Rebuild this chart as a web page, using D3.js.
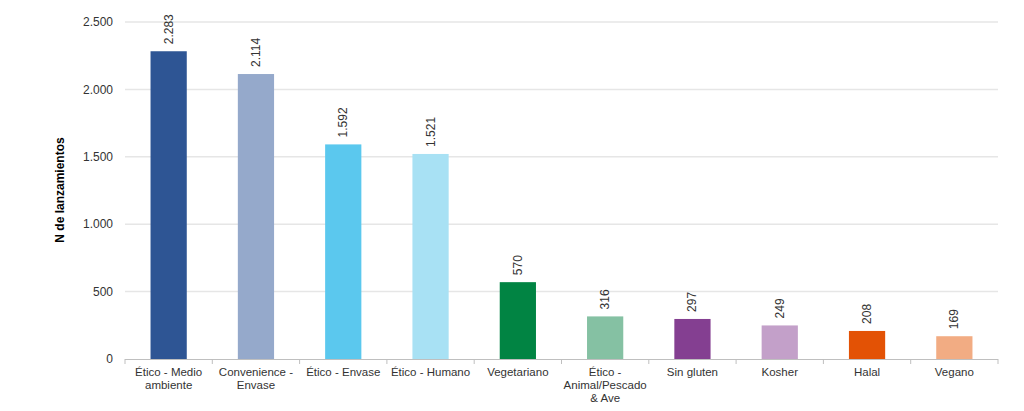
<!DOCTYPE html>
<html><head><meta charset="utf-8">
<script src="https://cdn.jsdelivr.net/npm/d3@7/dist/d3.min.js"></script>
<style>body{margin:0;background:#fff}svg{display:block;font-family:"Liberation Sans",Arial,sans-serif}</style>
</head><body><svg id="c" width="1024" height="411"></svg>
<script>
const categories = ["Ético - Medio|ambiente","Convenience -|Envase","Ético - Envase","Ético - Humano","Vegetariano","Ético -|Animal/Pescado|& Ave","Sin gluten","Kosher","Halal","Vegano"];
const values = [2283,2114,1592,1521,570,316,297,249,208,169];
const colors = ["#2E5594","#95A9CB","#5BC8EE","#A8E1F4","#018443","#85C1A3","#843F91","#C3A0C9","#E35205","#F2AC83"];
const yTicks = [0,500,1000,1500,2000,2500];
const yTitle = "N de lanzamientos";

(function(){
const svg = d3.select("#c");
const mLeft = 125, mRight = 998, mTop = 22, mBottom = 359;
const x = d3.scaleBand().domain(categories).range([mLeft,mRight]).paddingInner(0.585).paddingOuter(0.2925);
const y = d3.scaleLinear().domain([0,2500]).range([mBottom,mTop]);
const fmt = d3.formatLocale({decimal:",",thousands:".",grouping:[3],currency:["",""]}).format(",d");

svg.append("g").selectAll("line").data(yTicks.filter(d=>d>0)).join("line")
  .attr("x1",mLeft).attr("x2",mRight).attr("y1",d=>y(d)).attr("y2",d=>y(d))
  .attr("stroke","#e6e6e6").attr("stroke-width",1.5);

svg.append("g").selectAll("text").data(yTicks).join("text")
  .attr("x",113).attr("y",d=>y(d)).attr("dy","0.35em").attr("text-anchor","end")
  .attr("font-size",12).attr("fill","#333").text(d=>fmt(d));

svg.append("g").selectAll("rect").data(values).join("rect")
  .attr("x",(d,i)=>x(categories[i])).attr("width",x.bandwidth())
  .attr("y",d=>y(d)).attr("height",d=>mBottom-y(d)).attr("fill",(d,i)=>colors[i]);

svg.append("g").selectAll("text").data(values).join("text")
  .attr("transform",(d,i)=>`translate(${x(categories[i])+x.bandwidth()/2+4},${y(d)-7}) rotate(-90)`)
  .attr("text-anchor","start").attr("font-size",12).attr("fill","#333").text(d=>fmt(d));

const ax = svg.append("g");
ax.append("line").attr("x1",mLeft).attr("x2",mRight).attr("y1",mBottom+0.5).attr("y2",mBottom+0.5).attr("stroke","#bfbfbf");
const step = x.step();
ax.selectAll("line.t").data(d3.range(categories.length+1)).join("line").attr("class","t")
  .attr("x1",i=>mLeft+i*step).attr("x2",i=>mLeft+i*step).attr("y1",mBottom).attr("y2",mBottom+5).attr("stroke","#bfbfbf");
categories.forEach((c,i)=>{
  const t = ax.append("text").attr("text-anchor","middle").attr("font-size",11.5).attr("fill","#333");
  c.split("|").forEach((line,j)=>{
    t.append("tspan").attr("x",x(c)+x.bandwidth()/2).attr("y",376+j*13).text(line);
  });
});

svg.append("text").attr("transform",`translate(64,190) rotate(-90)`).attr("text-anchor","middle")
  .attr("font-size",12).attr("font-weight","bold").attr("fill","#000").text(yTitle);
})();
</script></body></html>
